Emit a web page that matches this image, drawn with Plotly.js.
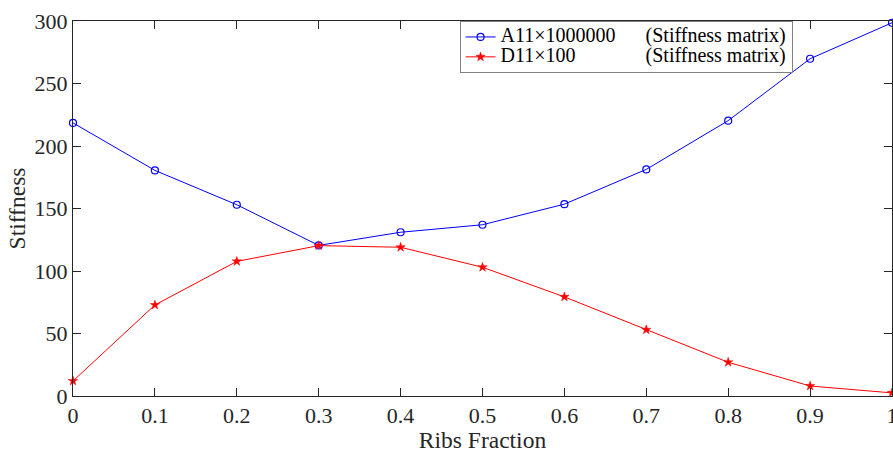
<!DOCTYPE html>
<html>
<head>
<meta charset="utf-8">
<script src="https://cdn.plot.ly/plotly-3.0.1.min.js"></script>
<style>
html,body{margin:0;padding:0;background:#fff;}
#chart{width:893px;height:453px;}
</style>
</head>
<body>
<div id="chart"></div>
<script>
const ribsFraction = [0, 0.1, 0.2, 0.3, 0.4, 0.5, 0.6, 0.7, 0.8, 0.9, 1.0];
const a11Values = [218.5, 180.5, 153, 120.5, 131, 137, 153.5, 181.3, 220.3, 269.8, 298.6];
const d11Values = [12, 72.8, 107.7, 120.3, 119, 103, 79.3, 53, 27, 8, 2.5];
const seriesLabels = ["A11×1000000", "D11×100"];
const seriesSuffix = "(Stiffness matrix)";
const seriesPad = [6, 14];
const xTitle = "Ribs Fraction";
const yTitle = "Stiffness";

const serif = "Liberation Serif, Times New Roman, serif";
const axisColor = "#262626";

function legendName(i) {
  return '<span style="font-size:20px">' + seriesLabels[i] + "\u00A0".repeat(seriesPad[i]) + seriesSuffix + '</span>';
}

const traces = [
  {
    x: ribsFraction, y: a11Values, name: legendName(0),
    type: "scatter", mode: "lines+markers", cliponaxis: false,
    line: {color: "#0000ff", width: 1},
    marker: {symbol: "circle-open", size: 7, color: "#0000ff", line: {width: 1.2, color: "#0000ff"}}
  },
  {
    x: ribsFraction, y: d11Values, name: legendName(1),
    type: "scatter", mode: "lines+markers", cliponaxis: false,
    line: {color: "#ff0000", width: 1},
    marker: {symbol: "star", size: 7, color: "#ff0000", line: {width: 0.5, color: "#ff0000"}}
  }
];

const layout = {
  width: 893, height: 453,
  margin: {l: 73, r: 1, t: 21, b: 57, pad: 0},
  paper_bgcolor: "#ffffff", plot_bgcolor: "#ffffff",
  font: {family: serif, color: "#262626", size: 22},
  showlegend: true,
  legend: {
    x: 0.472, y: 1, xanchor: "left", yanchor: "top",
    bgcolor: "#ffffff", bordercolor: "#808080", borderwidth: 1,
    font: {family: serif, size: 13, color: "#000000"},
    tracegroupgap: 0, itemwidth: 30
  },
  xaxis: {
    range: [0, 1], dtick: 0.1, tick0: 0,
    showgrid: false, zeroline: false,
    showline: true, linecolor: axisColor, linewidth: 1, mirror: "allticks",
    ticks: "inside", ticklen: 8, tickcolor: axisColor, tickwidth: 1,
    ticklabeloverflow: "allow",
    tickfont: {family: serif, size: 22, color: "#262626"},
    title: {text: xTitle, font: {family: serif, size: 23.5, color: "#262626"}, standoff: 8}
  },
  yaxis: {
    range: [0, 300], dtick: 50, tick0: 0,
    showgrid: false, zeroline: false,
    showline: true, linecolor: axisColor, linewidth: 1, mirror: "allticks",
    ticks: "inside", ticklen: 8, tickcolor: axisColor, tickwidth: 1,
    ticklabeloverflow: "allow",
    tickfont: {family: serif, size: 22, color: "#262626"},
    title: {text: yTitle, font: {family: serif, size: 23.5, color: "#262626"}, standoff: 2}
  }
};

Plotly.newPlot("chart", traces, layout, {displayModeBar: false, staticPlot: true});
</script>
</body>
</html>
